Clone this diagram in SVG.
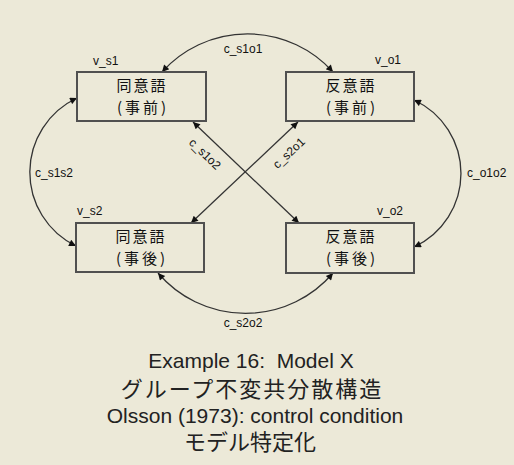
<svg xmlns="http://www.w3.org/2000/svg" width="514" height="465" viewBox="0 0 514 465">
<style>
.bg{fill:#ECE9D8}
.box{fill:#ECE9D8;stroke:#505050;stroke-width:2}
.bt{font-family:"Noto Sans CJK JP","Noto Sans CJK SC",sans-serif;font-size:15px;fill:#111;text-anchor:middle}
.lb{font-family:"Liberation Sans",Arial,sans-serif;font-size:12px;fill:#111}
.cn{fill:none;stroke:#333;stroke-width:1.3;marker-start:url(#ah);marker-end:url(#ah)}
.ti{font-family:"Liberation Sans",Arial,sans-serif;font-size:21px;fill:#222;text-anchor:middle}
.tj{font-family:"Noto Sans CJK JP","Noto Sans CJK SC",sans-serif;font-size:22px;fill:#222;text-anchor:middle}
</style>
<defs>
<marker id="ah" viewBox="0 0 10 10" refX="10" refY="5" markerWidth="9" markerHeight="7" markerUnits="userSpaceOnUse" orient="auto-start-reverse">
<path d="M0,0 L10,5 L0,10 Z" fill="#111"/>
</marker>
</defs>
<rect class="bg" x="0" y="0" width="514" height="465"/>
<g id="connectors">
<path id="c_s1o1" class="cn" d="M162,72 A115,115 0 0 1 333,72"/>
<path id="c_s1s2" class="cn" d="M77,98 A82,82 0 0 0 76,246"/>
<path id="c_o1o2" class="cn" d="M414,100 A81,81 0 0 1 414,247"/>
<path id="c_s2o2" class="cn" d="M158,273 A115,115 0 0 0 333,273"/>
<path id="c_s1o2" class="cn" d="M193,122 L299,223"/>
<path id="c_s2o1" class="cn" d="M298,122 L191,223"/>
<text class="lb" x="243" y="53" text-anchor="middle">c_s1o1</text>
<text class="lb" x="35" y="177">c_s1s2</text>
<text class="lb" x="467" y="177">c_o1o2</text>
<text class="lb" x="243" y="327" text-anchor="middle">c_s2o2</text>
<text class="lb" x="205" y="158" text-anchor="middle" transform="rotate(44 205 154)">c_s1o2</text>
<text class="lb" x="289" y="157" text-anchor="middle" transform="rotate(-43 289 153)">c_s2o1</text>
</g>
<g id="v_s1">
<rect class="box" x="77" y="72" width="129" height="49"/>
<text class="lb" x="93" y="65">v_s1</text>
<text class="bt" x="142" y="91" letter-spacing="2">同意語</text>
<text class="bt" x="143" y="113" letter-spacing="3">(事前)</text>
</g>
<g id="v_o1">
<rect class="box" x="286" y="72" width="128" height="49"/>
<text class="lb" x="375" y="64">v_o1</text>
<text class="bt" x="351" y="91" letter-spacing="2">反意語</text>
<text class="bt" x="352" y="113" letter-spacing="3">(事前)</text>
</g>
<g id="v_s2">
<rect class="box" x="76" y="223" width="128" height="49"/>
<text class="lb" x="77" y="215">v_s2</text>
<text class="bt" x="141" y="242" letter-spacing="2">同意語</text>
<text class="bt" x="142" y="264" letter-spacing="3">(事後)</text>
</g>
<g id="v_o2">
<rect class="box" x="286" y="223" width="128" height="50"/>
<text class="lb" x="377" y="215">v_o2</text>
<text class="bt" x="351" y="242" letter-spacing="2">反意語</text>
<text class="bt" x="352" y="264" letter-spacing="3">(事後)</text>
</g>
<g id="title">
<text class="ti" x="251" y="368" xml:space="preserve">Example 16:  Model X</text>
<text class="tj" x="252" y="397" letter-spacing="2">グループ不変共分散構造</text>
<text class="ti" x="255" y="423">Olsson (1973): control condition</text>
<text class="tj" x="250" y="450">モデル特定化</text>
</g>
</svg>
